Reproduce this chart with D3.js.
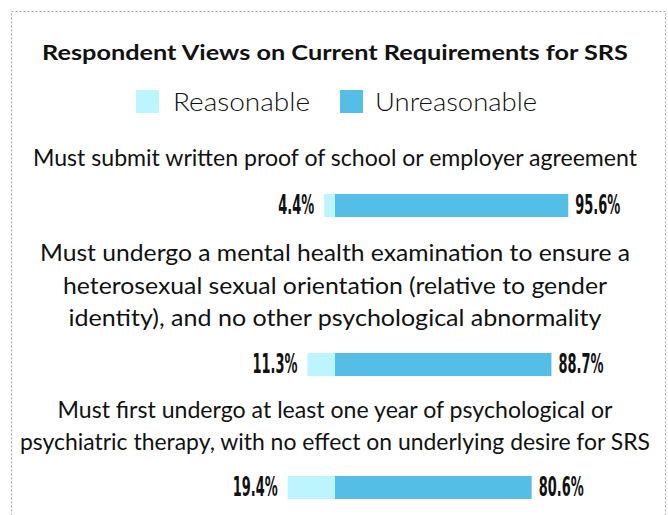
<!DOCTYPE html>
<html><head><meta charset="utf-8">
<script src="https://cdn.jsdelivr.net/npm/d3@7"></script>
<style>
html,body{margin:0;padding:0;background:#fff;}
svg{display:block;}
</style></head>
<body>
<svg id="chart" width="668" height="515"></svg>
<script>
const title = "Respondent Views on Current Requirements for SRS";
const seriesNames = ["Reasonable", "Unreasonable"];
const seriesColors = ["#bcf5fd", "#55bee6"];
const categoryLines = [
  ["Must submit written proof of school or employer agreement"],
  ["Must undergo a mental health examination to ensure a",
   "heterosexual sexual orientation (relative to gender",
   "identity), and no other psychological abnormality"],
  ["Must first undergo at least one year of psychological or",
   "psychiatric therapy, with no effect on underlying desire for SRS"]
];
const reasonable = [4.4, 11.3, 19.4];
const unreasonable = [95.6, 88.7, 80.6];

const svg = d3.select("#chart");
const cx = 335;
const textFont = "Lato, 'Open Sans', sans-serif";
const numFont = "'Liberation Sans Narrow', 'DejaVu Sans Condensed', 'Liberation Sans', sans-serif";

const lineWidths = [[604], [590, 544, 533], [555, 630]];
const lineBase = [[166], [261, 293.5, 326], [418, 449.5]];
const barY = [194, 353, 476];
const barH = 23;

// border
svg.append("rect").attr("x", 11.5).attr("y", 11.5).attr("width", 654).attr("height", 520)
  .attr("fill", "none").attr("stroke", "#aaa").attr("stroke-width", 1).attr("stroke-dasharray", "2,2");

svg.append("text").attr("x", cx).attr("y", 60).attr("text-anchor", "middle")
  .attr("font-family", textFont).attr("font-weight", "bold").attr("font-size", 21.5).attr("fill", "#111")
  .attr("textLength", 586).attr("lengthAdjust", "spacingAndGlyphs")
  .text(title);

// legend
const legendPos = [{sx: 136, tx: 173, w: 137}, {sx: 340, tx: 375, w: 162}];
seriesNames.forEach((n, i) => {
  svg.append("rect").attr("x", legendPos[i].sx).attr("y", 90).attr("width", 23).attr("height", 23)
    .attr("fill", seriesColors[i]);
  svg.append("text").attr("x", legendPos[i].tx).attr("y", 110.5)
    .attr("font-family", textFont).attr("font-weight", 300).attr("font-size", 24.5).attr("fill", "#111")
    .attr("textLength", legendPos[i].w).attr("lengthAdjust", "spacingAndGlyphs")
    .text(n);
});

const x = d3.scaleLinear().domain([0, 100]).range([0, 244]);

// measure number font to compress it to a condensed look
const probe = svg.append("text").attr("font-family", numFont).attr("font-weight", "bold")
  .attr("font-size", 26).text("95.6%");
const k = 45 / probe.node().getComputedTextLength();
probe.remove();

categoryLines.forEach((lines, i) => {
  lines.forEach((l, j) => {
    svg.append("text").attr("x", cx).attr("y", lineBase[i][j]).attr("text-anchor", "middle")
      .attr("font-family", textFont).attr("font-size", 22.5).attr("fill", "#111")
      .attr("textLength", lineWidths[i][j]).attr("lengthAdjust", "spacingAndGlyphs")
      .text(l);
  });
  const r = reasonable[i], u = unreasonable[i];
  svg.append("rect").attr("x", cx - x(r)).attr("y", barY[i]).attr("width", x(r)).attr("height", barH)
    .attr("fill", seriesColors[0]);
  svg.append("rect").attr("x", cx).attr("y", barY[i]).attr("width", x(u)).attr("height", barH)
    .attr("fill", seriesColors[1]);
  const ly = barY[i] + 19.5;
  svg.append("text").attr("transform", `translate(${cx - x(r) - 10},${ly}) scale(${k},1)`)
    .attr("text-anchor", "end").attr("font-family", numFont).attr("font-weight", "bold")
    .attr("font-size", 26).attr("fill", "#111").text(r.toFixed(1) + "%");
  svg.append("text").attr("transform", `translate(${cx + x(u) + 7},${ly}) scale(${k},1)`)
    .attr("text-anchor", "start").attr("font-family", numFont).attr("font-weight", "bold")
    .attr("font-size", 26).attr("fill", "#111").text(u.toFixed(1) + "%");
});
</script>
</body></html>
